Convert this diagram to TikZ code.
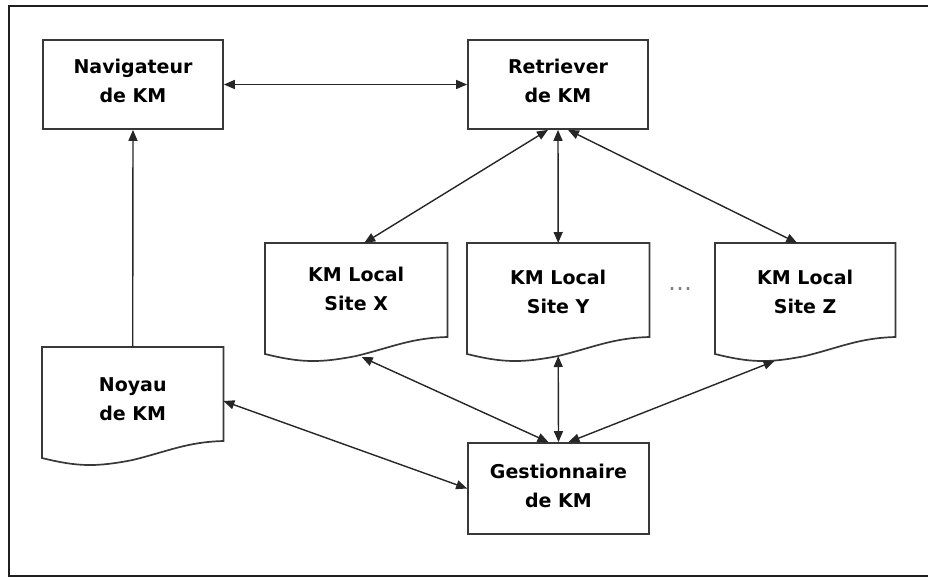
\documentclass[tikz,border=0pt]{standalone}
\usepackage{fontspec}
\setmainfont{DejaVu Sans}
\usetikzlibrary{arrows.meta,calc}
\newcommand\kmfont{\fontsize{19}{29}\selectfont\bfseries}
% document-shaped outline (flat top, wavy bottom) around a node
\newcommand\docoutline[1]{%
  \draw[boxline] (#1.north west) -- (#1.north east) -- ($(#1.north east)+(0,94)$)
    .. controls ($(#1.north west)!0.8!(#1.north east)+(0,95)$) and ($(#1.north west)!0.7!(#1.north east)+(0,104)$)
    .. ($(#1.north west)!0.5!(#1.north east)+(0,113)$)
    .. controls ($(#1.north west)!0.3!(#1.north east)+(0,120)$) and ($(#1.north west)!0.2!(#1.north east)+(0,120)$)
    .. ($(#1.north west)+(0,111)$) -- cycle;}
\begin{document}
\begin{tikzpicture}[x=1pt,y=-1pt,
  frame/.style={line width=2.4pt, draw=black!88},
  boxline/.style={line width=1.7pt, draw=black!78},
  box/.style={boxline, rectangle, inner sep=0pt, align=center, font=\kmfont},
  docnode/.style={rectangle, inner sep=0pt, align=center, font=\kmfont, anchor=north west},
  arr/.style={line width=1.4pt, draw=black!85},
  >={Triangle[length=11pt,width=9pt]}]
\useasboundingbox (0,0) rectangle (928,579);
% outer frame
\draw[frame] (940,576) -- (9,576) -- (9,6) -- (940,6);

% rectangular boxes
\node[box, minimum width=180pt, minimum height=89pt, text depth=8pt] (nav) at (133,84.5) {Navigateur\\de KM};
\node[box, minimum width=180pt, minimum height=89pt, text depth=8pt] (ret) at (558,84.5) {Retriever\\de KM};
\node[box, minimum width=181pt, minimum height=91pt, text depth=6pt] (gest) at (558.5,488.5) {Gestionnaire\\de KM};

% document boxes
\node[docnode, minimum width=182pt, minimum height=92pt] (sx) at (265,243) {KM Local\\Site X};
\node[docnode, minimum width=182pt, minimum height=97pt] (sy) at (467,243) {KM Local\\Site Y};
\node[docnode, minimum width=180pt, minimum height=98pt] (sz) at (715,243) {KM Local\\Site Z};
\node[docnode, minimum width=181pt, minimum height=103pt] (noy) at (42,347) {Noyau\\de KM};
\docoutline{sx}
\docoutline{sy}
\docoutline{sz}
\docoutline{noy}

\node[font=\fontsize{24}{24}\selectfont, text=black!50] (dots) at (680,289) {…};

% points on the wavy bottoms
\coordinate (sxb) at ($(sx.north west)!0.53!(sx.north east)+(0,114)$);
\coordinate (syb) at ($(sy.north west)!0.5!(sy.north east)+(0,113)$);
\coordinate (szb) at ($(sz.north west)!0.33!(sz.north east)+(0,118)$);

% connectors
\draw[arr,<->] (nav.east) -- (ret.west);
\draw[arr,->] (noy.north) -- (nav.south);
\draw[arr,<->] ($(ret.south)+(-10,0)$) -- ($(sx.north)+(8,0)$);
\draw[arr,<->] (ret.south) -- (sy.north);
\draw[arr,<->] ($(ret.south)+(10,0)$) -- ($(sz.north)+(-8,0)$);
\draw[arr,<->] (sxb) -- ($(gest.north)+(-10,0)$);
\draw[arr,<->] (syb) -- (gest.north);
\draw[arr,<->] (szb) -- ($(gest.north)+(10,0)$);
\draw[arr,<->] ($(noy.north east)+(0,54)$) -- (gest.west);
\end{tikzpicture}
\end{document}
